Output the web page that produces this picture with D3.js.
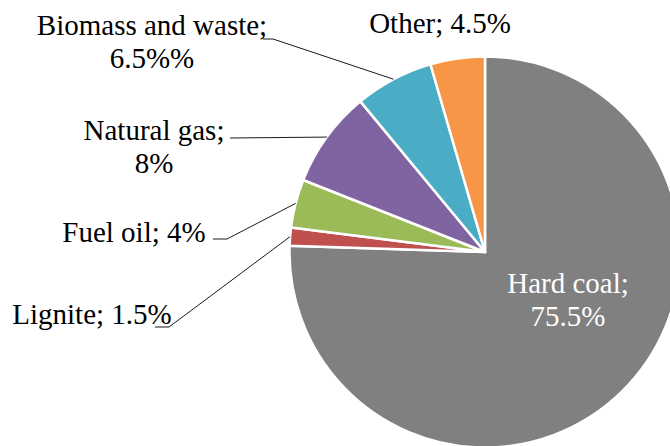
<!DOCTYPE html>
<html>
<head>
<meta charset="utf-8">
<script src="https://cdn.jsdelivr.net/npm/d3@7"></script>
<style>
  html, body { margin: 0; padding: 0; background: #fff; }
  svg { display: block; }
</style>
</head>
<body>
<div id="chart"></div>
<script>
// data, clockwise from 12 o'clock
const categories = ["Hard coal", "Lignite", "Fuel oil", "Natural gas", "Biomass and waste", "Other"];
const shares = [75.5, 1.5, 4, 8, 6.5, 4.5];
const labelLines = [
  ["Hard coal;", "75.5%"],
  ["Lignite; 1.5%"],
  ["Fuel oil; 4%"],
  ["Natural gas;", "8%"],
  ["Biomass and waste;", "6.5%%"],
  ["Other; 4.5%"]
];
const colors = ["#808080", "#c0504d", "#9bbb59", "#8064a2", "#4bacc6", "#f79646"];

// label layout (hand placed, like the original)
// tx,ty = text anchor, ex,ey = elbow of leader, hx = end of short horizontal
const labelLayout = [
  { tx: 568, ty: 293, fill: "#fff" },
  { tx: 92, ty: 324, ex: 169, ey: 327, hx: 155 },
  { tx: 134, ty: 242, ex: 227, ey: 239, hx: 213 },
  { tx: 154, ty: 140, ex: 230, ey: 138, hx: 230 },
  { tx: 152, ty: 35, ex: 273, ey: 39, hx: 263 },
  { tx: 440, ty: 33 }
];

const width = 670, height = 446;
const cx = 485, cy = 252, radius = 195.5;
const fontSize = 29, lineGap = 33;

const svg = d3.select("#chart").append("svg")
  .attr("width", width)
  .attr("height", height);

const pie = d3.pie().sort(null).value(d => d)(shares);
const arc = d3.arc().innerRadius(0).outerRadius(radius);

const g = svg.append("g").attr("transform", `translate(${cx},${cy})`);

g.selectAll("path")
  .data(pie)
  .join("path")
    .attr("d", arc)
    .attr("fill", (d, i) => colors[i])
    .attr("stroke", "#fff")
    .attr("stroke-width", 2.5)
    .attr("stroke-linejoin", "round");

// leader lines from slice mid-angle on the rim
const lines = svg.append("g")
  .attr("fill", "none")
  .attr("stroke", "#000")
  .attr("stroke-width", 0.9);

pie.forEach((d, i) => {
  const L = labelLayout[i];
  if (L.ex === undefined) return;
  const a = (d.startAngle + d.endAngle) / 2;
  const px = cx + radius * Math.sin(a);
  const py = cy - radius * Math.cos(a);
  lines.append("path")
    .attr("d", d3.line()([[px, py], [L.ex, L.ey], [L.hx, L.ey]]));
});

// labels
const labels = svg.append("g")
  .attr("font-family", "'Liberation Serif', 'DejaVu Serif', serif")
  .attr("font-size", fontSize);
labelLines.forEach((lns, i) => {
  const L = labelLayout[i];
  const t = labels.append("text")
    .attr("text-anchor", "middle")
    .attr("fill", L.fill || "#000");
  lns.forEach((s, k) => {
    t.append("tspan")
      .attr("x", L.tx)
      .attr("y", L.ty + k * lineGap)
      .text(s);
  });
});
</script>
</body>
</html>
